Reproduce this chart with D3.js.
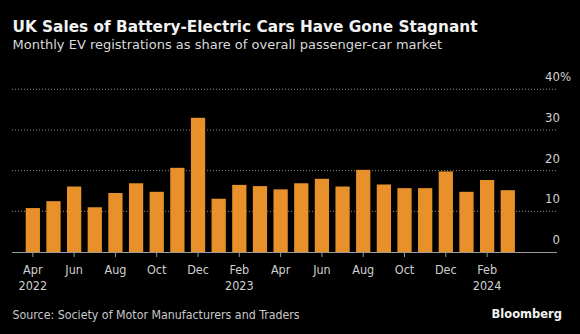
<!DOCTYPE html>
<html>
<head>
<meta charset="utf-8">
<script src="https://cdn.jsdelivr.net/npm/d3@7"></script>
<style>
  body { margin: 0; background: #000; }
  svg { display: block; }
  text { font-family: "DejaVu Sans Condensed", "DejaVu Sans", sans-serif; }
</style>
</head>
<body>
<div id="chart"></div>
<script>
var width = 580
var height = 334

// monthly BEV share of new car registrations, Apr 2022 - Mar 2024
const months = ["2022-04","2022-05","2022-06","2022-07","2022-08","2022-09","2022-10","2022-11","2022-12",
                "2023-01","2023-02","2023-03","2023-04","2023-05","2023-06","2023-07","2023-08","2023-09",
                "2023-10","2023-11","2023-12","2024-01","2024-02","2024-03"];
const share = [10.8, 12.5, 16.1, 11.0, 14.5, 16.9, 14.8, 20.7, 33.0,
               13.1, 16.5, 16.2, 15.4, 16.9, 18.0, 16.1, 20.2, 16.6,
               15.7, 15.7, 19.8, 14.8, 17.7, 15.2];
const monthLabels = ["Apr","Jun","Aug","Oct","Dec","Feb","Apr","Jun","Aug","Oct","Dec","Feb"];
const yearLabels = {"2022-04": "2022", "2023-02": "2023", "2024-02": "2024"};
const yTicks = [0, 10, 20, 30, 40];

var svg = d3.select("#chart").append("svg")
            .attr("width", width)
            .attr("height", height)

svg.append("rect").attr("width", width).attr("height", height).attr("fill", "#000")

const xScale = d3.scaleBand()
    .domain(months)
    .range([22.5, 518.1])
    .paddingInner(0.31)
    .paddingOuter(0.155);

const yScale = d3.scaleLinear()
    .domain([0, 40])
    .range([252, 89.3]);

// titles
svg.append("text")
    .attr("x", 12.5).attr("y", 32.3)
    .attr("fill", "#f2f2f2")
    .style("font-family", "'DejaVu Sans', sans-serif")
    .style("font-weight", "bold")
    .style("font-size", "15.3px")
    .text("UK Sales of Battery-Electric Cars Have Gone Stagnant");

svg.append("text")
    .attr("x", 12.5).attr("y", 49.3)
    .attr("fill", "#d9d9d9")
    .style("font-family", "'DejaVu Sans', sans-serif")
    .style("font-size", "13px")
    .text("Monthly EV registrations as share of overall passenger-car market");

// gridlines
svg.append("g").selectAll("line").data(yTicks.filter(d => d > 0))
  .enter().append("line")
    .attr("x1", 12).attr("x2", 557)
    .attr("y1", d => yScale(d)).attr("y2", d => yScale(d))
    .attr("stroke", "#8a8a8a")
    .attr("stroke-width", 1)
    .attr("stroke-dasharray", "1,2");

// y labels on the right, sitting above each line
svg.append("g").selectAll("text").data(yTicks)
  .enter().append("text")
    .attr("x", 560)
    .attr("y", d => yScale(d) - 8)
    .attr("text-anchor", "end")
    .attr("fill", "#d0d0d0")
    .style("font-size", "13px")
    .text(d => d);
svg.append("text")
    .attr("x", 560).attr("y", yScale(40) - 8)
    .attr("fill", "#d0d0d0")
    .style("font-size", "13px")
    .text("%");

// bars
svg.append("g").selectAll("rect").data(months)
  .enter().append("rect")
    .attr("x", d => xScale(d))
    .attr("y", (d, i) => yScale(share[i]))
    .attr("width", xScale.bandwidth())
    .attr("height", (d, i) => yScale(0) - yScale(share[i]))
    .attr("fill", "#e8912b");

// baseline
svg.append("line")
    .attr("x1", 12).attr("x2", 557)
    .attr("y1", 252.5).attr("y2", 252.5)
    .attr("stroke", "#9a9a9a").attr("stroke-width", 1);

// x ticks and labels every other month
const tickMonths = months.filter((d, i) => i % 2 === 0);
const xg = svg.append("g");
xg.selectAll("line").data(tickMonths)
  .enter().append("line")
    .attr("x1", d => xScale(d) + xScale.bandwidth() / 2)
    .attr("x2", d => xScale(d) + xScale.bandwidth() / 2)
    .attr("y1", 252).attr("y2", 257)
    .attr("stroke", "#9a9a9a");
xg.selectAll("text.m").data(tickMonths)
  .enter().append("text")
    .attr("class", "m")
    .attr("x", d => xScale(d) + xScale.bandwidth() / 2)
    .attr("y", 274)
    .attr("text-anchor", "middle")
    .attr("fill", "#d0d0d0")
    .style("font-size", "12.5px")
    .text((d, i) => monthLabels[i]);
xg.selectAll("text.y").data(tickMonths.filter(d => yearLabels[d]))
  .enter().append("text")
    .attr("class", "y")
    .attr("x", d => xScale(d) + xScale.bandwidth() / 2)
    .attr("y", 290)
    .attr("text-anchor", "middle")
    .attr("fill", "#d0d0d0")
    .style("font-size", "12.5px")
    .text(d => yearLabels[d]);

// footer
svg.append("text")
    .attr("x", 12.5).attr("y", 319.3)
    .attr("fill", "#c8c8c8")
    .style("font-size", "12.3px")
    .text("Source: Society of Motor Manufacturers and Traders");

svg.append("text")
    .attr("x", 562).attr("y", 318)
    .attr("text-anchor", "end")
    .attr("fill", "#f2f2f2")
    .style("font-family", "'DejaVu Sans', sans-serif")
    .style("font-weight", "bold")
    .style("font-size", "11.5px")
    .text("Bloomberg");
</script>
</body>
</html>
